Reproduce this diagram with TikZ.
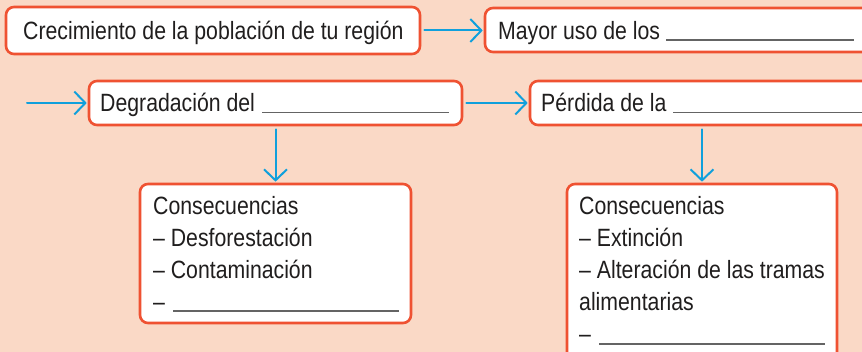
\documentclass[tikz,border=0pt]{standalone}
\usepackage{fontspec}
\setmainfont{Liberation Sans}[FakeStretch=0.85]
\usetikzlibrary{arrows.meta}
\definecolor{bg}{RGB}{250,217,198}
\definecolor{bord}{RGB}{239,82,50}
\definecolor{arr}{RGB}{16,160,220}
\definecolor{txt}{RGB}{32,30,30}
\definecolor{uln}{RGB}{100,100,100}
\begin{document}
\begin{tikzpicture}[x=1pt,y=-1pt,
 box/.style={draw=bord, line width=2.6pt, fill=white, rounded corners=8pt, inner sep=0pt},
 lbl/.style={anchor=base west, inner sep=0pt, text=txt, font=\fontsize{25}{32}\selectfont},
 conn/.style={draw=arr, line width=2pt, line cap=round, -{Straight Barb[length=11pt,width=23pt,line width=2pt]}, shorten <=3pt, shorten >=1pt},
 uline/.style={draw=uln, line width=1.3pt}]
\fill[bg] (0,0) rectangle (862,352);
\useasboundingbox (0,0) rectangle (862,352);
\clip (0,0) rectangle (862,352);
% boxes
\node[box, minimum width=414pt, minimum height=47pt] (b1) at (213,30.5) {};
\node[box, minimum width=414pt, minimum height=44pt] (b2) at (692,30) {};
\node[box, minimum width=373pt, minimum height=44pt] (b3) at (275.5,103) {};
\node[box, minimum width=369pt, minimum height=44pt] (b4) at (714.5,103) {};
\node[box, minimum width=271pt, minimum height=139pt] (b5) at (275.5,253.5) {};
\node[box, minimum width=270pt, minimum height=215pt] (b6) at (702,291.5) {};
% connectors
\coordinate (s3) at (27,103);
\draw[conn] (b1.east) -- (b1.east -| b2.west);
\draw[conn, shorten <=0pt] (s3) -- (b3.west);
\draw[conn] (b3.east) -- (b4.west);
\draw[conn] (b3.south) -- (b5.north);
\draw[conn] (b4.south -| b6.north) -- (b6.north);
% texts
\node[lbl] (t1) at (23,40) {Crecimiento de la población de tu región};
\node[lbl] (t2) at (498,40) {Mayor uso de los};
\node[lbl] (t3) at (100,112) {Degradación del};
\node[lbl] (t4) at (541,112) {Pérdida de la};
\node[lbl] (c1) at (153,215) {Consecuencias};
\node[lbl] (c2) at (153,247) {– Desforestación};
\node[lbl] (c3) at (153,279) {– Contaminación};
\node[lbl] (c4) at (153,311) {–};
\node[lbl] (d1) at (579,215) {Consecuencias};
\node[lbl] (d2) at (579,247) {– Extinción};
\node[lbl] (d3) at (579,279) {– Alteración de las tramas};
\node[lbl] (d4) at (579,311) {alimentarias};
\node[lbl] (d5) at (579,343) {–};
% blanks
\draw[uline] (666,40) -- (854,40);
\draw[uline] (262,112.5) -- (449,112.5);
\draw[uline] (673,112.5) -- (870,112.5);
\draw[uline] (173,311) -- (399,311);
\draw[uline] (599,344) -- (825,344);
\end{tikzpicture}
\end{document}
